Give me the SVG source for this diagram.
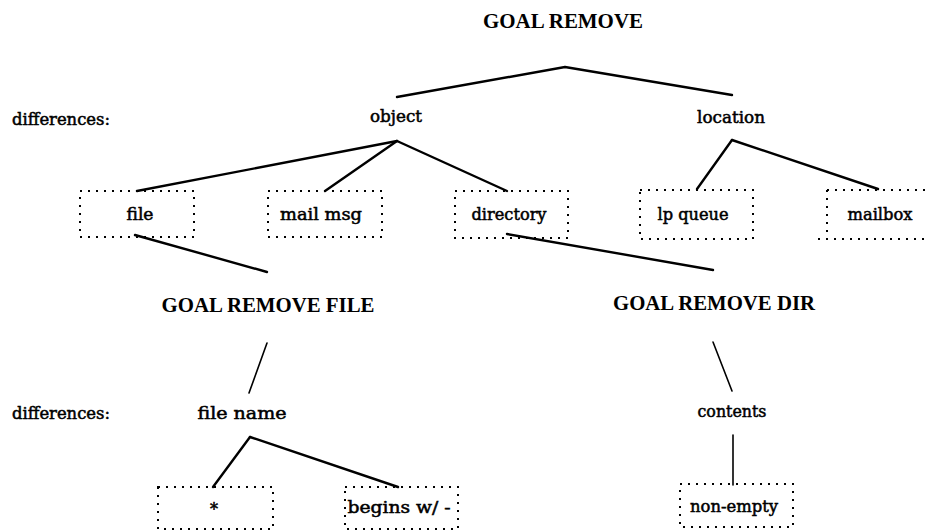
<svg xmlns="http://www.w3.org/2000/svg" width="931" height="531" viewBox="0 0 931 531">
<style>
.bg{fill:#fff}
.goal{font-family:"Liberation Serif","Times New Roman",serif;font-weight:bold;font-size:20px;fill:#000;text-anchor:middle}
.lbl{font-family:"DejaVu Serif","Liberation Serif",serif;font-size:16px;fill:#000;stroke:#000;stroke-width:0.5;text-anchor:middle}
.box{fill:none;stroke:#000;stroke-width:2;stroke-dasharray:2 6}
.ln{fill:none;stroke:#000;stroke-width:2.4;stroke-linecap:round;stroke-linejoin:round}
.thin{fill:none;stroke:#000;stroke-width:1.6;stroke-linecap:round}
</style>
<rect class="bg" x="0" y="0" width="931" height="531"/>
<g id="connectors">
<polyline class="ln" points="397,97 565,67 732,95"/>
<line class="ln" x1="397" y1="141" x2="137" y2="191"/>
<line class="ln" x1="397" y1="141" x2="325" y2="191"/>
<line class="ln" x1="397" y1="141" x2="507" y2="191"/>
<line class="ln" x1="732" y1="140" x2="697" y2="189"/>
<line class="ln" x1="732" y1="140" x2="878" y2="189"/>
<line class="ln" x1="135" y1="235" x2="267" y2="272"/>
<line class="ln" x1="507" y1="234" x2="713" y2="270"/>
<line class="thin" x1="267" y1="343" x2="249" y2="393"/>
<line class="thin" x1="713" y1="342" x2="732" y2="391"/>
<line class="ln" x1="250" y1="437" x2="213" y2="487"/>
<line class="ln" x1="250" y1="437" x2="398" y2="487"/>
<line class="thin" x1="733" y1="435" x2="733" y2="485"/>
</g>
<g id="goal-remove"><text class="goal" x="563" y="28" textLength="160" lengthAdjust="spacingAndGlyphs">GOAL REMOVE</text></g>
<g id="differences-1"><text class="lbl" x="61" y="125" textLength="98" lengthAdjust="spacingAndGlyphs">differences:</text></g>
<g id="object"><text class="lbl" x="396" y="122" textLength="52" lengthAdjust="spacingAndGlyphs">object</text></g>
<g id="location"><text class="lbl" x="731" y="123" textLength="68" lengthAdjust="spacingAndGlyphs">location</text></g>
<g id="file"><rect class="box" x="80" y="191" width="114" height="46"/><text class="lbl" x="140" y="220" textLength="27" lengthAdjust="spacingAndGlyphs">file</text></g>
<g id="mail-msg"><rect class="box" x="268" y="191" width="114" height="46"/><text class="lbl" x="321" y="220" textLength="82" lengthAdjust="spacingAndGlyphs">mail msg</text></g>
<g id="directory"><rect class="box" x="455" y="191" width="113" height="47"/><text class="lbl" x="509" y="220" textLength="75" lengthAdjust="spacingAndGlyphs">directory</text></g>
<g id="lp-queue"><rect class="box" x="640" y="190" width="113" height="49"/><text class="lbl" x="693" y="220" textLength="71" lengthAdjust="spacingAndGlyphs">lp queue</text></g>
<g id="mailbox"><path class="box" d="M827,190 H930 M827,190 V238 M818,239 H930"/><text class="lbl" x="880" y="220" textLength="65" lengthAdjust="spacingAndGlyphs">mailbox</text></g>
<g id="goal-remove-file"><text class="goal" x="268" y="312" textLength="213" lengthAdjust="spacingAndGlyphs">GOAL REMOVE FILE</text></g>
<g id="goal-remove-dir"><text class="goal" x="714" y="310" textLength="202" lengthAdjust="spacingAndGlyphs">GOAL REMOVE DIR</text></g>
<g id="differences-2"><text class="lbl" x="61" y="419" textLength="98" lengthAdjust="spacingAndGlyphs">differences:</text></g>
<g id="file-name"><text class="lbl" x="242" y="419" textLength="89" lengthAdjust="spacingAndGlyphs">file name</text></g>
<g id="contents"><text class="lbl" x="732" y="417" textLength="69" lengthAdjust="spacingAndGlyphs">contents</text></g>
<g id="star"><rect class="box" x="158" y="487" width="115" height="42"/><text class="lbl" x="214" y="515">*</text></g>
<g id="begins"><rect class="box" x="345" y="487" width="113" height="42"/><text class="lbl" x="399" y="513" textLength="103" lengthAdjust="spacingAndGlyphs">begins w/ -</text></g>
<g id="non-empty"><rect class="box" x="680" y="484" width="113" height="43"/><text class="lbl" x="734" y="512" textLength="88" lengthAdjust="spacingAndGlyphs">non-empty</text></g>
</svg>
